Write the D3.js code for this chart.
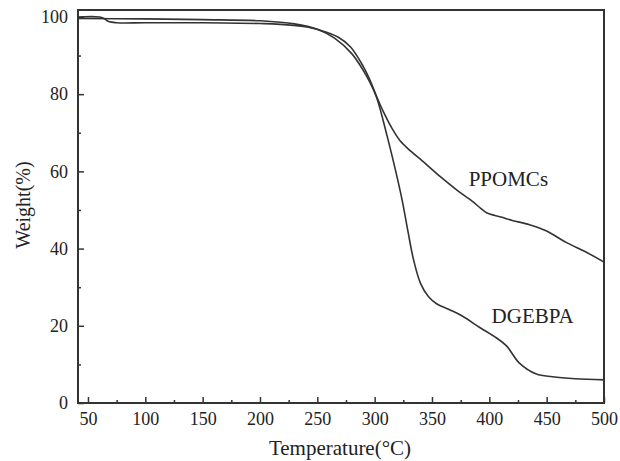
<!DOCTYPE html>
<html>
<head>
<meta charset="utf-8">
<script src="https://cdn.jsdelivr.net/npm/d3@7"></script>
<style>
  body { margin: 0; background: #fff; }
  text { font-family: "Liberation Serif", "Times New Roman", serif; fill: #222; }
</style>
</head>
<body>
<div id="chart"></div>
<script>
// TGA curves
var ppomcsTemp = [41, 60, 64, 68, 75, 100, 150, 200, 211, 241, 252, 268, 279, 290, 296, 302, 308, 315, 322, 332, 342, 357, 372, 385, 393, 398, 410, 420, 435, 449, 467, 485, 500];
var ppomcsWeight = [100, 100, 99.6, 98.8, 98.5, 98.5, 98.5, 98.3, 98.2, 97.4, 96.6, 94.8, 92.2, 87.2, 83.6, 79.2, 75.2, 71.2, 68, 65.1, 62.6, 58.7, 55.1, 52.3, 50.3, 49.2, 48.2, 47.3, 46.2, 44.7, 41.6, 39, 36.5];
var dgebpaTemp = [41, 100, 150, 200, 230, 250, 265, 280, 290, 296, 302, 311, 318, 324, 329, 334, 340, 347, 354, 365, 376, 392, 406, 415, 426, 441, 455, 475, 500];
var dgebpaWeight = [99.6, 99.5, 99.3, 99, 98.2, 96.8, 94.5, 90.5, 86.2, 83, 78.9, 69, 60.5, 52.5, 44.5, 37, 31, 27.5, 25.7, 24.2, 22.6, 19.5, 16.9, 14.8, 10.4, 7.5, 6.8, 6.3, 6.0];
var xTicks = [50, 100, 150, 200, 250, 300, 350, 400, 450, 500];
var yTicks = [0, 20, 40, 60, 80, 100];

var svgWidth = 620, svgHeight = 461;
var margin = {top: 10, right: 16, bottom: 58, left: 78};
var width = svgWidth - margin.left - margin.right;
var height = svgHeight - margin.top - margin.bottom;

var svg = d3.select("#chart").append("svg")
    .attr("width", svgWidth)
    .attr("height", svgHeight);
var g = svg.append("g").attr("transform", `translate(${margin.left},${margin.top})`);

var x = d3.scaleLinear().domain([41.3, 500]).range([0, width]);
var y = d3.scaleLinear().domain([0, 101.8]).range([height, 0]);

// inward ticks, major + minor
var xMinor = d3.range(75, 500, 50);
var yMinor = d3.range(10, 100, 20);

g.append("g").attr("transform", `translate(0,${height})`)
    .call(d3.axisBottom(x).tickValues(xTicks).tickSizeInner(-6).tickSizeOuter(0).tickPadding(9));
g.append("g").attr("transform", `translate(0,${height})`)
    .call(d3.axisBottom(x).tickValues(xMinor).tickSizeInner(-3).tickSizeOuter(0).tickFormat(""));
g.append("g")
    .call(d3.axisLeft(y).tickValues(yTicks).tickSizeInner(-6).tickSizeOuter(0).tickPadding(10));
g.append("g")
    .call(d3.axisLeft(y).tickValues(yMinor).tickSizeInner(-3).tickSizeOuter(0).tickFormat(""));

g.selectAll(".domain").remove();
g.selectAll(".tick line").attr("stroke", "#333").attr("stroke-width", 1.5);
g.selectAll(".tick text").style("font-size", "18px").attr("fill", "#222");

// frame
g.append("rect")
    .attr("width", width).attr("height", height)
    .attr("fill", "none").attr("stroke", "#333").attr("stroke-width", 2);

var line = d3.line()
    .x(d => x(d[0]))
    .y(d => y(d[1]))
    .curve(d3.curveCatmullRom.alpha(0.5));

var series = [
    {name: "PPOMCs", pts: d3.zip(ppomcsTemp, ppomcsWeight)},
    {name: "DGEBPA", pts: d3.zip(dgebpaTemp, dgebpaWeight)}
];

g.selectAll(".curve").data(series).enter().append("path")
    .attr("class", "curve")
    .attr("d", d => line(d.pts))
    .attr("fill", "none")
    .attr("stroke", "#333")
    .attr("stroke-width", 1.6);

// curve labels
g.append("text").attr("x", x(382)).attr("y", y(56.2)).style("font-size", "21px").text("PPOMCs");
g.append("text").attr("x", x(402)).attr("y", y(20.6)).style("font-size", "21px").text("DGEBPA");

// axis titles
svg.append("text")
    .attr("x", 340).attr("y", 455)
    .attr("text-anchor", "middle")
    .style("font-size", "21px")
    .text("Temperature(°C)");
svg.append("text")
    .attr("transform", "translate(30,205) rotate(-90)")
    .attr("text-anchor", "middle")
    .style("font-size", "20px")
    .text("Weight(%)");
</script>
</body>
</html>
